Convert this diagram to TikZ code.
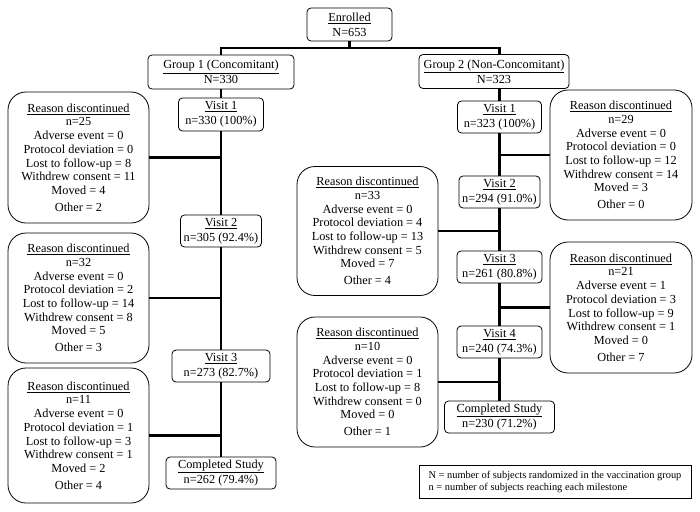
\documentclass[tikz,border=0pt]{standalone}
\usepackage{fontspec}
\setmainfont{Liberation Serif}
\newcommand\rsn[7]{\underline{Reason discontinued}\\n=#1\\Adverse event = #2\\Protocol deviation = #3\\Lost to follow-up = #4\\Withdrew consent = #5\\Moved = #6\\[3pt]Other = #7}
\begin{document}
\begin{tikzpicture}[x=1pt,y=-1pt,
 box/.style={draw, line width=0.8pt, fill=white, align=center, inner sep=0pt, font=\fontsize{12.3}{15}\selectfont},
 vbox/.style={box, rounded corners=4pt},
 rbox/.style={box, rounded corners=18pt, minimum width=141pt, font=\fontsize{12.3}{13.7}\selectfont},
 conn/.style={line width=2.6pt}]
\path[use as bounding box, fill=white] (0,0) rectangle (700,511);
% top
\node[vbox, minimum width=85pt, minimum height=33pt] (enr) at (349.5,24.5) {\underline{Enrolled}\\N=653};
\node[vbox, minimum width=146pt, minimum height=34pt] (g1) at (221,72) {\underline{Group 1 (Concomitant)}\\N=330};
\node[vbox, minimum width=150pt, minimum height=34pt] (g2) at (494,71.5) {\underline{Group 2 (Non-Concomitant)}\\N=323};
% group 1
\node[vbox, minimum width=85pt, minimum height=33pt] (v1a) at (221,114.5) {\underline{Visit 1}\\n=330 (100\%)};
\node[vbox, minimum width=81pt, minimum height=32pt] (v2a) at (221,231) {\underline{Visit 2}\\n=305 (92.4\%)};
\node[vbox, minimum width=98pt, minimum height=32pt] (v3a) at (221,366) {\underline{Visit 3}\\n=273 (82.7\%)};
\node[vbox, minimum width=110pt, minimum height=32pt] (csa) at (221,473) {\underline{Completed Study}\\n=262 (79.4\%)};
\node[rbox, minimum height=131pt] (r1a) at (78.5,157.5) {\rsn{25}{0}{0}{8}{11}{4}{2}};
\node[rbox, minimum height=130pt] (r2a) at (78.5,298) {\rsn{32}{0}{2}{14}{8}{5}{3}};
\node[rbox, minimum height=135pt] (r3a) at (78.5,435.5) {\rsn{11}{0}{1}{3}{1}{2}{4}};
% group 2
\node[vbox, minimum width=84pt, minimum height=32pt] (v1b) at (499.5,117) {\underline{Visit 1}\\n=323 (100\%)};
\node[vbox, minimum width=81pt, minimum height=32pt] (v2b) at (499.5,192) {\underline{Visit 2}\\n=294 (91.0\%)};
\node[vbox, minimum width=85pt, minimum height=32pt] (v3b) at (499.5,267) {\underline{Visit 3}\\n=261 (80.8\%)};
\node[vbox, minimum width=85pt, minimum height=32pt] (v4b) at (499.5,342) {\underline{Visit 4}\\n=240 (74.3\%)};
\node[vbox, minimum width=110pt, minimum height=32pt] (csb) at (499.5,417) {\underline{Completed Study}\\n=230 (71.2\%)};
\node[rbox, minimum width=142pt, minimum height=130pt] (r1b) at (621,155) {\rsn{29}{0}{0}{12}{14}{3}{0}};
\node[rbox, minimum height=129pt] (r2b) at (367.5,231) {\rsn{33}{0}{4}{13}{5}{7}{4}};
\node[rbox, minimum width=142pt, minimum height=131pt] (r3b) at (621,307.5) {\rsn{21}{1}{3}{9}{1}{0}{7}};
\node[rbox, minimum height=130pt] (r4b) at (367.5,382) {\rsn{10}{0}{1}{8}{0}{0}{1}};
% legend
\node[draw, line width=0.6pt, minimum width=272pt, minimum height=33pt, inner sep=0pt, align=left, font=\fontsize{10.4}{12}\selectfont] (leg) at (555,481.5) {N = number of subjects randomized in the vaccination group\\n = number of subjects reaching each milestone};
% connectors
\coordinate (j) at (349.5,48);
\draw[conn] (enr.south) -- (j);
\draw[conn] (g1.north) |- (j) -| (g2.north -| v1b);
\draw[conn] (g1) -- (v1a);
\draw[conn] (v1a) -- (v2a);
\draw[conn] (v2a) -- (v3a);
\draw[conn] (v3a) -- (csa);
\draw[conn] (r1a.east) -- (r1a.east -| v1a);
\draw[conn] (r2a.east) -- (r2a.east -| v1a);
\draw[conn] (r3a.east) -- (r3a.east -| v1a);
\draw[conn] (g2.south -| v1b) -- (v1b.north);
\draw[conn] (v1b) -- (v2b);
\draw[conn] (v2b) -- (v3b);
\draw[conn] (v3b) -- (v4b);
\draw[conn] (v4b) -- (csb);
\draw[conn] (r1b.west) -- (r1b.west -| v1b);
\draw[conn] (r2b.east) -- (r2b.east -| v1b);
\draw[conn] (r3b.west) -- (r3b.west -| v1b);
\draw[conn] (r4b.east) -- (r4b.east -| v1b);
\end{tikzpicture}
\end{document}
